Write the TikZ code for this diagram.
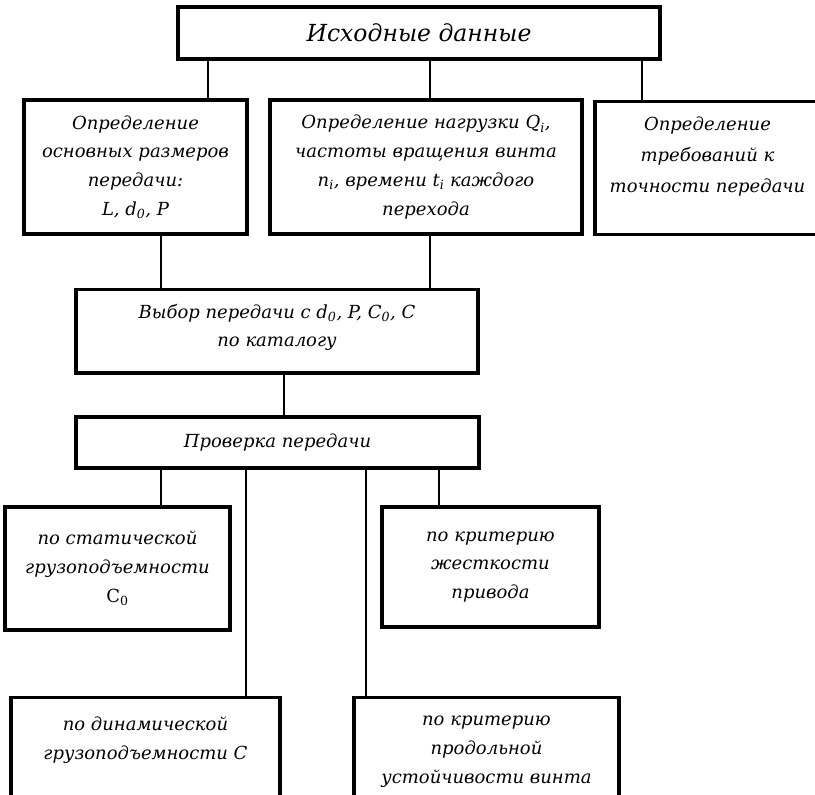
\documentclass[tikz,border=0pt]{standalone}
\usepackage{fontspec}
\setmainfont{DejaVu Serif}

\begin{document}
\begin{tikzpicture}[line join=miter,x=1pt,y=-1pt,
		box/.style={draw,line width=3.2pt,align=center,inner sep=0pt,font=\itshape\fontsize{18}{28.7}\selectfont},
		link/.style={line width=1.4pt,line cap=round}]%схема расчета
			\useasboundingbox (0,0) rectangle (815,795);
			\clip (0,0) rectangle (815,795);
			\node[box,minimum width=482,minimum height=52,font=\itshape\fontsize{23.5}{30}\selectfont] (ish) at (419,33) {Исходные данные};
			\node[box,minimum width=223,minimum height=134] (razm) at (135.5,167) {Определение\\основных размеров\\передачи:\\L, d\textsubscript{0}, P};
			\node[box,minimum width=312,minimum height=134] (nagr) at (426,167) {Определение нагрузки Q\textsubscript{i},\\частоты вращения винта\\n\textsubscript{i}, времени t\textsubscript{i} каждого\\перехода};
			\node[box,anchor=north,minimum width=225,inner ysep=15.5,text depth=26,font=\itshape\fontsize{18}{31}\selectfont] (toch) at (707.5,100) {Определение\\требований к\\точности передачи};
			\node[box,anchor=north,minimum width=402,inner ysep=14.5,text depth=11.5] (vybor) at (277,288) {Выбор передачи c d\textsubscript{0}, P, C\textsubscript{0}, C\\по каталогу};
			\node[box,minimum width=403,minimum height=51] (prov) at (277.5,442.5) {Проверка передачи};
			\node[box,minimum width=225,minimum height=123] (stat) at (117.5,568.5) {по статической\\грузоподъемности\\{\upshape C\textsubscript{0}}};
			\node[box,minimum width=217,minimum height=120] (zhest) at (490.5,567) {по критерию\\жесткости\\привода};
			\node[box,anchor=north,minimum width=269,inner ysep=19.5,text depth=100] (dyn) at (145.5,696) {по динамической\\грузоподъемности C};
			\node[box,anchor=north,minimum width=265,inner ysep=18.5,text depth=100] (prod) at (486.5,696) {по критерию\\продольной\\устойчивости винта};
			% связи
			\draw[link] (ish.south -| 208,0) -- (razm.north -| 208,0);
			\draw[link] (ish.south -| 430,0) -- (nagr.north -| 430,0);
			\draw[link] (ish.south -| 642,0) -- (toch.north -| 642,0);
			\draw[link] (razm.south -| 161,0) -- (vybor.north -| 161,0);
			\draw[link] (nagr.south -| 430,0) -- (vybor.north -| 430,0);
			\draw[link] (vybor.south -| 284,0) -- (prov.north -| 284,0);
			\draw[link] (prov.south -| 161,0) -- (stat.north -| 161,0);
			\draw[link] (prov.south -| 246,0) -- (dyn.north -| 246,0);
			\draw[link] (prov.south -| 366,0) -- (prod.north -| 366,0);
			\draw[link] (prov.south -| 439,0) -- (zhest.north -| 439,0);
		\end{tikzpicture}
\end{document}
